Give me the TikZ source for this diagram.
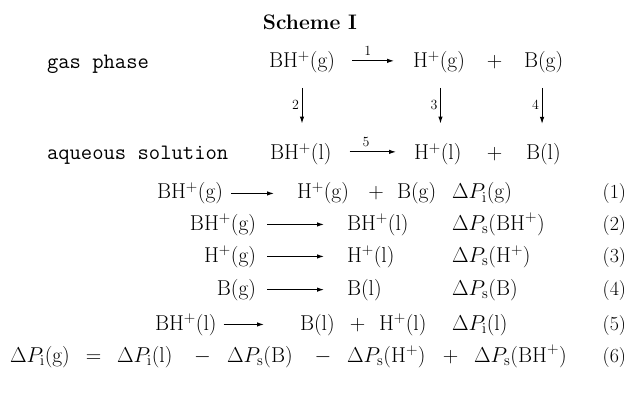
\documentclass[tikz,border=0pt]{standalone}
\usepackage{fix-cm}
\usetikzlibrary{arrows.meta}
\tikzset{
  every node/.style={inner sep=0pt, outer sep=0pt},
  t/.style={font=\fontsize{21.5}{25}\selectfont},
  tb/.style={font=\fontsize{21}{25}\selectfont\bfseries},
  tt/.style={font=\fontsize{22}{26}\selectfont\ttfamily},
  lab/.style={font=\fontsize{14}{16}\selectfont},
  num/.style={font=\fontsize{20}{24}\selectfont},
  arr/.style={-{Latex[length=7pt,width=4.5pt]}, line width=1pt},
}
\begin{document}
\begin{tikzpicture}[x=1pt,y=-1pt]
\fill[white] (0,0) rectangle (628,395);
\useasboundingbox (0,0) rectangle (628,395);

% title
\node[tb, anchor=base] (title) at (310,30) {Scheme I};

% scheme row 1
\node[tt, anchor=base west] (gas) at (47,69) {gas phase};
\node[t, anchor=base west] (bhg) at (269,68) {BH$^{+}$(g)};
\node[t, anchor=base west] (hg) at (413,68) {H$^{+}$(g)};
\node[t, anchor=base] (pl1) at (494.5,68) {$+$};
\node[t, anchor=base west] (bg) at (524,68) {B(g)};

% scheme row 2
\node[tt, anchor=base west] (aq) at (47,160) {aqueous solution};
\node[t, anchor=base west] (bhl) at (270,160) {BH$^{+}$(l)};
\node[t, anchor=base west] (hl) at (414,160) {H$^{+}$(l)};
\node[t, anchor=base] (pl2) at (494.5,160) {$+$};
\node[t, anchor=base west] (bl) at (526,160) {B(l)};

% scheme arrows
\draw[arr, shorten <=17pt, shorten >=19pt] ([yshift=1.6pt]bhg.east) -- ([yshift=1.6pt]hg.west)
  node[lab, pos=0.42, above=5pt] {1};
\draw[arr, shorten <=18pt, shorten >=18pt] ([yshift=2.6pt]bhl.east) -- ([yshift=2.6pt]hl.west)
  node[lab, pos=0.42, above=5pt] {5};
\draw[arr, shorten <=14.5pt, shorten >=20pt] (bhg.south) -- (bhg.south |- bhl.north)
  node[lab, pos=0.45, left=3pt] {2};
\draw[arr, shorten <=14.5pt, shorten >=20pt] ([xshift=1.5pt]hg.south) -- ([xshift=1.5pt]hg.south |- hl.north)
  node[lab, pos=0.45, left=3pt] {3};
\draw[arr, shorten <=14.5pt, shorten >=20pt] ([xshift=-1.5pt]bg.south) -- ([xshift=-1.5pt]bg.south |- bl.north)
  node[lab, pos=0.45, left=3pt] {4};

% equation 1
\node[t, anchor=base west] (r1) at (157,199) {BH$^{+}$(g)};
\node[t, anchor=base west] (p1a) at (297,199) {H$^{+}$(g)};
\node[t, anchor=base] (q1) at (376,199) {$+$};
\node[t, anchor=base west] (p1b) at (397,199) {B(g)};
\node[t, anchor=base west] (d1) at (452,199) {$\Delta P_{\mathrm{i}}$(g)};
\node[num, anchor=base east] (n1) at (626,199) {(1)};
\draw[arr, shorten <=8pt, shorten >=23pt] (r1.east) -- (r1.east -| p1a.west);

% equation 2
\node[t, anchor=base east] (r2) at (256,230) {BH$^{+}$(g)};
\node[t, anchor=base west] (p2) at (347,230) {BH$^{+}$(l)};
\node[t, anchor=base west] (d2) at (452,230) {$\Delta P_{\mathrm{s}}(\mathrm{BH}^{+})$};
\node[num, anchor=base east] (n2) at (626,230) {(2)};
\draw[arr, shorten <=11pt, shorten >=23pt] (r2.east) -- (r2.east -| p2.west);

% equation 3
\node[t, anchor=base east] (r3) at (256,262) {H$^{+}$(g)};
\node[t, anchor=base west] (p3) at (347,262) {H$^{+}$(l)};
\node[t, anchor=base west] (d3) at (452,262) {$\Delta P_{\mathrm{s}}(\mathrm{H}^{+})$};
\node[num, anchor=base east] (n3) at (626,262) {(3)};
\draw[arr, shorten <=11pt, shorten >=23pt] (r3.east) -- (r3.east -| p3.west);

% equation 4
\node[t, anchor=base east] (r4) at (256,295) {B(g)};
\node[t, anchor=base west] (p4) at (347,295) {B(l)};
\node[t, anchor=base west] (d4) at (452,295) {$\Delta P_{\mathrm{s}}(\mathrm{B})$};
\node[num, anchor=base east] (n4) at (626,295) {(4)};
\draw[arr, shorten <=11pt, shorten >=23pt] (r4.east) -- (r4.east -| p4.west);

% equation 5
\node[t, anchor=base west] (r5) at (155,330) {BH$^{+}$(l)};
\node[t, anchor=base west] (p5a) at (300,330) {B(l)};
\node[t, anchor=base] (q5) at (357.5,330) {$+$};
\node[t, anchor=base west] (p5b) at (379,330) {H$^{+}$(l)};
\node[t, anchor=base west] (d5) at (452,330) {$\Delta P_{\mathrm{i}}$(l)};
\node[num, anchor=base east] (n5) at (626,330) {(5)};
\draw[arr, shorten <=7pt, shorten >=36pt] (r5.east) -- (r5.east -| p5a.west);

% equation 6
\node[t, anchor=base west] (e1) at (10,362) {$\Delta P_{\mathrm{i}}$(g)};
\node[t, anchor=base] (eq) at (93.5,362) {$=$};
\node[t, anchor=base west] (e2) at (117,362) {$\Delta P_{\mathrm{i}}$(l)};
\node[t, anchor=base] (m1) at (202.5,362) {$-$};
\node[t, anchor=base west] (e3) at (227,362) {$\Delta P_{\mathrm{s}}(\mathrm{B})$};
\node[t, anchor=base] (m2) at (323,362) {$-$};
\node[t, anchor=base west] (e4) at (347,362) {$\Delta P_{\mathrm{s}}(\mathrm{H}^{+})$};
\node[t, anchor=base] (pp) at (450.5,362) {$+$};
\node[t, anchor=base west] (e5) at (474,362) {$\Delta P_{\mathrm{s}}(\mathrm{BH}^{+})$};
\node[num, anchor=base east] (n6) at (626,362) {(6)};
\end{tikzpicture}
\end{document}
